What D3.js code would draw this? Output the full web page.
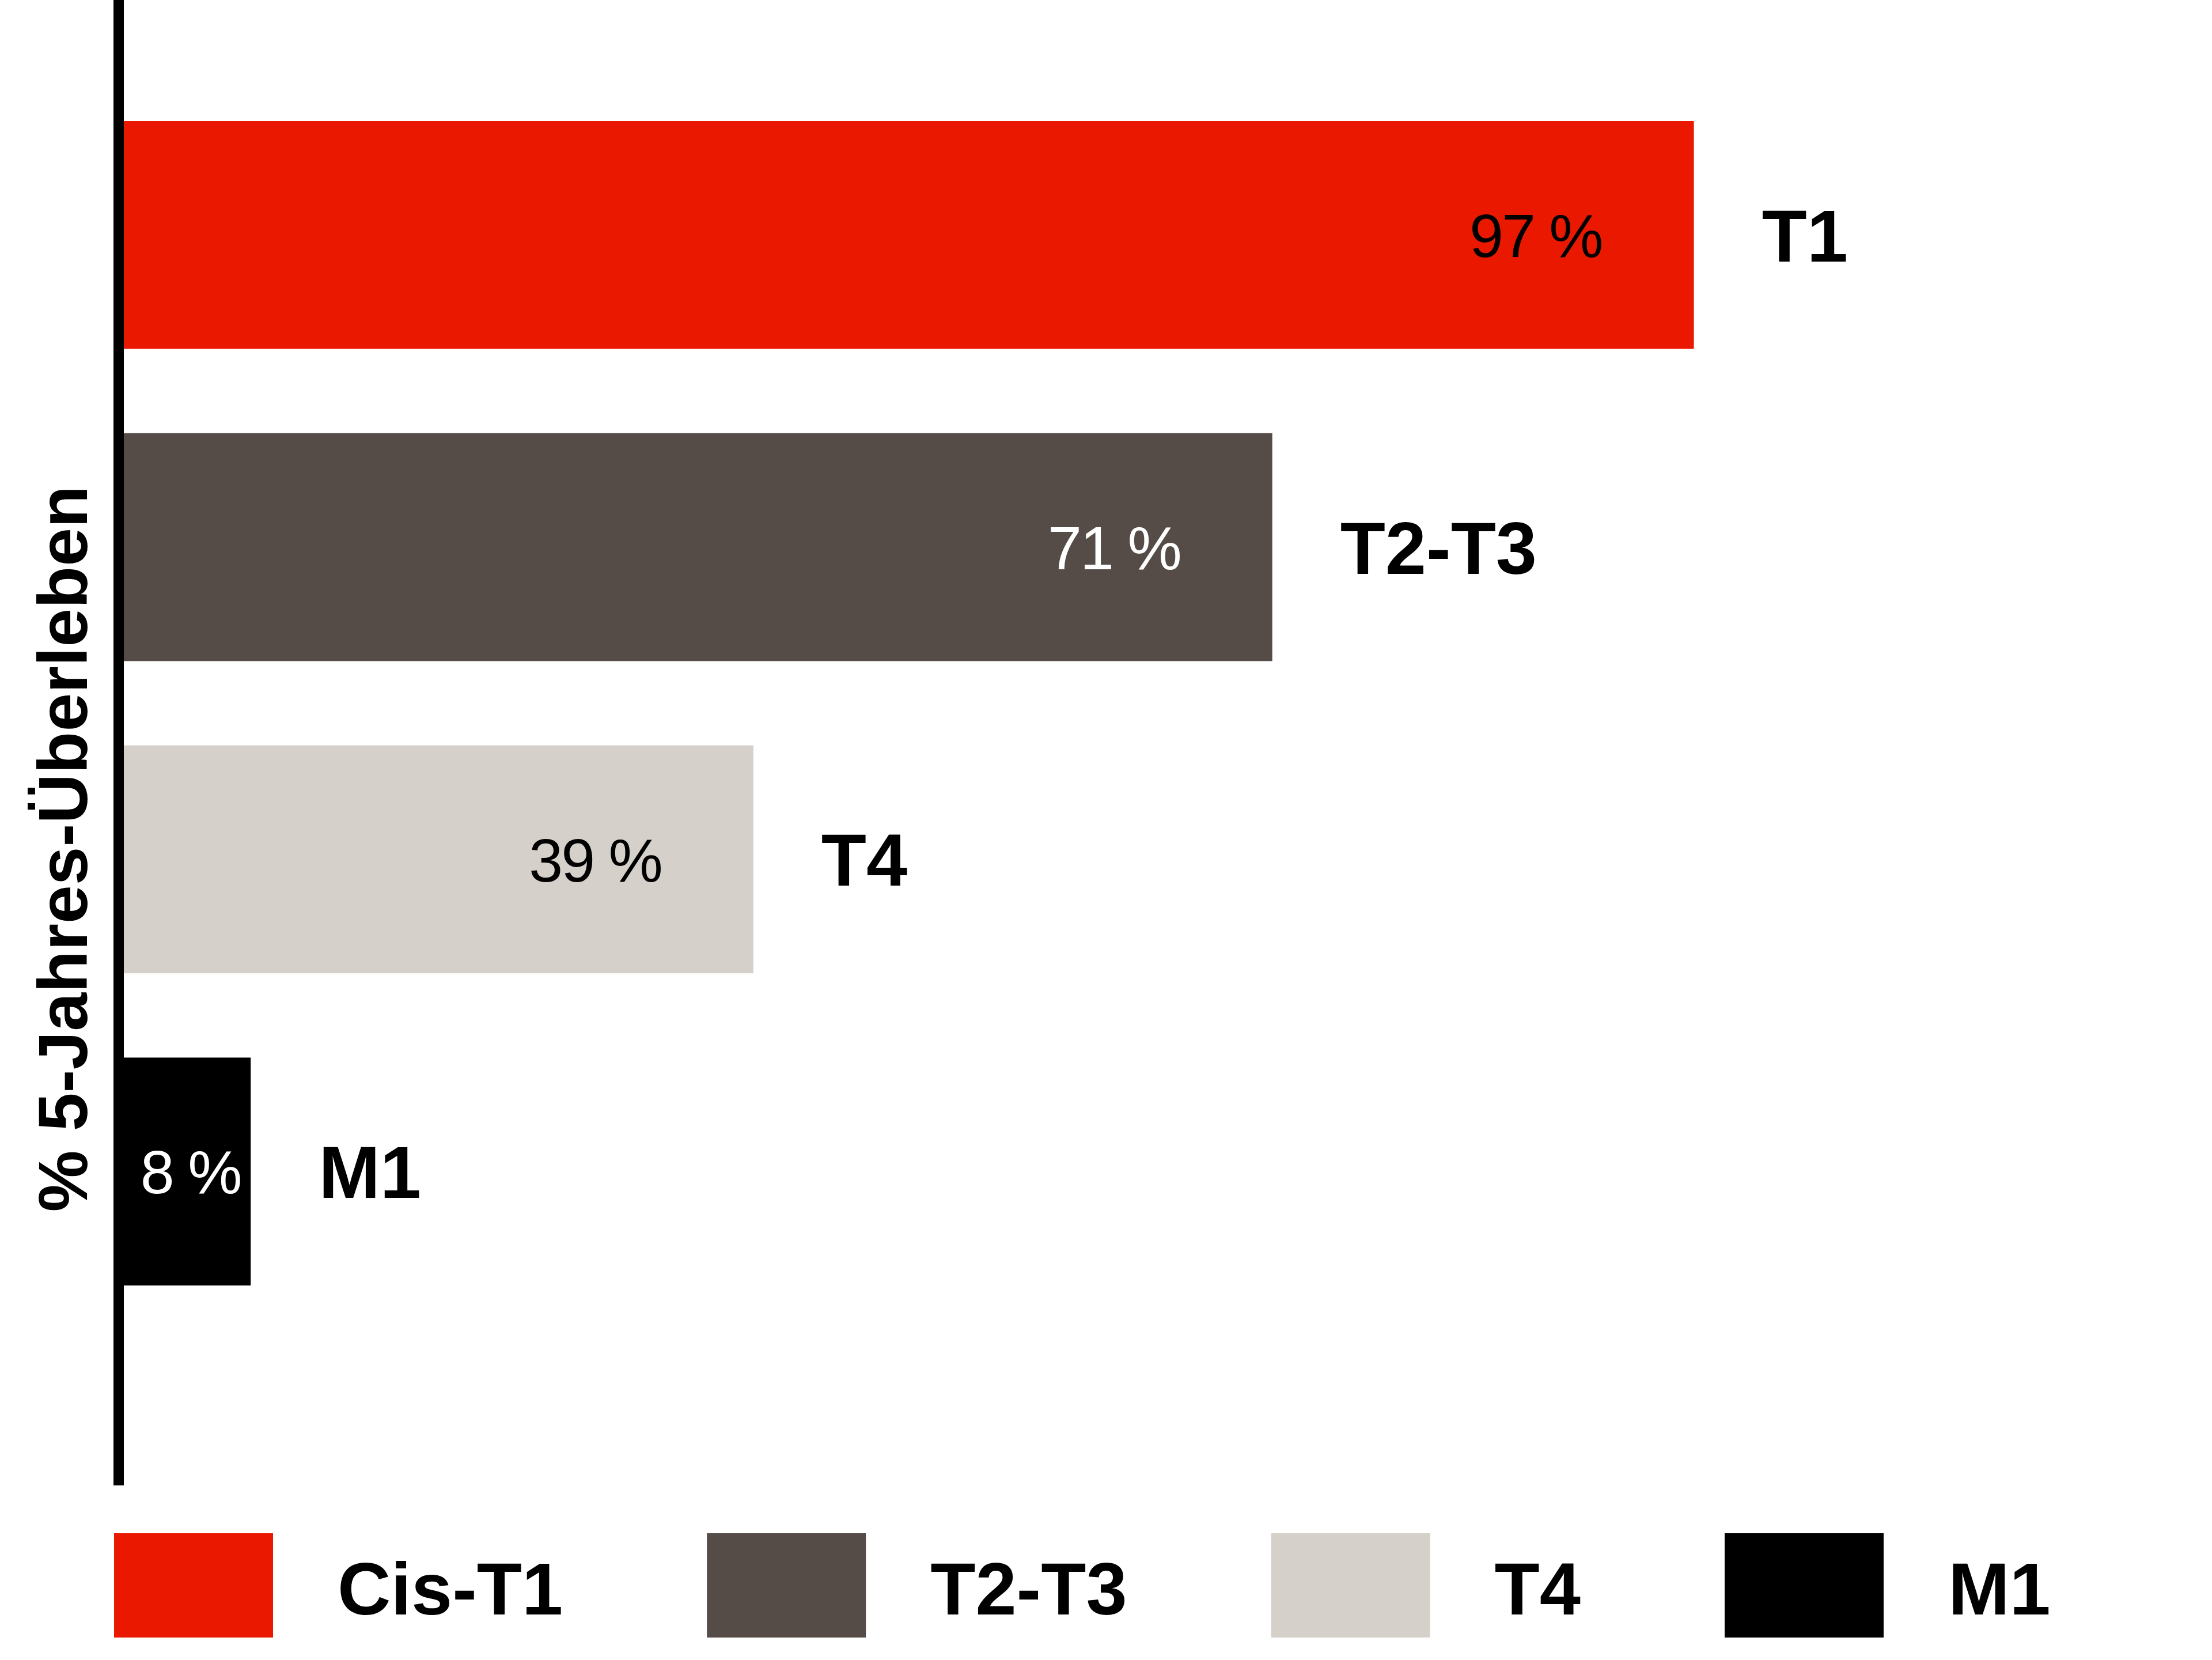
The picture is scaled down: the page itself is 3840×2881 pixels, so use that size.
<!DOCTYPE html>
<html>
<head>
<meta charset="utf-8">
<script src="https://cdn.jsdelivr.net/npm/d3@7"></script>
<style>
  body { margin: 0; background: #fff; }
  text { font-family: "Liberation Sans", Arial, Helvetica, sans-serif; }
</style>
</head>
<body>
<div id="chart"></div>
<script>
// data
const categories = ["T1", "T2-T3", "T4", "M1"]
const survival = [97, 71, 39, 8]
const legendLabels = ["Cis-T1", "T2-T3", "T4", "M1"]
const barColors = ["#EB1800", "#554C47", "#D5D0CA", "#000000"]
const valueColors = ["#000000", "#ffffff", "#000000", "#ffffff"]
const axisTitle = "% 5-Jahres-Überleben"

width = 3840
height = 2881
axisX = 206
axisBottom = 2578

x = d3.scaleLinear()
  .domain([0, 100])
  .range([210, 3025])

y = d3.scaleBand()
  .domain(categories)
  .range([210, 2231])
  .paddingInner(0.27)
  .paddingOuter(0)

const rows = categories.map((c, i) => ({cat: c, value: survival[i], color: barColors[i], valueColor: valueColors[i]}))

const svg = d3.select("#chart").append("svg")
  .attr("width", width)
  .attr("height", height)
  .attr("viewBox", [0, 0, width, height])

// bars
svg.append("g")
  .selectAll("rect")
  .data(rows)
  .enter().append("rect")
  .attr("x", x(0))
  .attr("y", d => y(d.cat))
  .attr("width", d => x(d.value) - x(0))
  .attr("height", y.bandwidth())
  .attr("fill", d => d.color)

// value labels inside bars (right aligned, or centred when the bar is short)
const valueSize = 106
const isWide = d => x(d.value) - x(0) > 500
svg.append("g")
  .selectAll("text")
  .data(rows)
  .enter().append("text")
  .attr("x", d => isWide(d) ? x(d.value) - 160 : (x(0) + x(d.value)) / 2 + 8)
  .attr("y", d => y(d.cat) + y.bandwidth() / 2 + valueSize * 0.36)
  .attr("text-anchor", d => isWide(d) ? "end" : "middle")
  .attr("fill", d => d.valueColor)
  .style("font-size", valueSize + "px")
  .style("letter-spacing", "-3px")
  .text(d => d.value + " %")

// category labels right of bars
const catSize = 128
svg.append("g")
  .selectAll("text")
  .data(rows)
  .enter().append("text")
  .attr("x", d => x(d.value) + 118)
  .attr("y", d => y(d.cat) + y.bandwidth() / 2 + catSize * 0.36)
  .attr("fill", "#000")
  .style("font-size", catSize + "px")
  .style("font-weight", "bold")
  .text(d => d.cat)

// vertical axis line
svg.append("line")
  .attr("x1", axisX).attr("x2", axisX)
  .attr("y1", 0).attr("y2", axisBottom)
  .attr("stroke", "#000")
  .attr("stroke-width", 18)

// axis title
svg.append("text")
  .attr("transform", "translate(151,1473) rotate(-90)")
  .attr("text-anchor", "middle")
  .style("font-size", "120px")
  .style("font-weight", "bold")
  .text(axisTitle)

// legend, laid out as a flow
const legendBoxW = 276
const legendBoxH = 181
const legendTop = 2661
const legendTextGap = 112
const legendItemGap = 250
let lx = 198
legendLabels.forEach((label, i) => {
  svg.append("rect")
    .attr("x", lx)
    .attr("y", legendTop)
    .attr("width", legendBoxW)
    .attr("height", legendBoxH)
    .attr("fill", barColors[i])
  const t = svg.append("text")
    .attr("x", lx + legendBoxW + legendTextGap)
    .attr("y", 2802)
    .style("font-size", catSize + "px")
    .style("font-weight", "bold")
    .text(label)
  lx = lx + legendBoxW + legendTextGap + t.node().getComputedTextLength() + legendItemGap
})
</script>
</body>
</html>
